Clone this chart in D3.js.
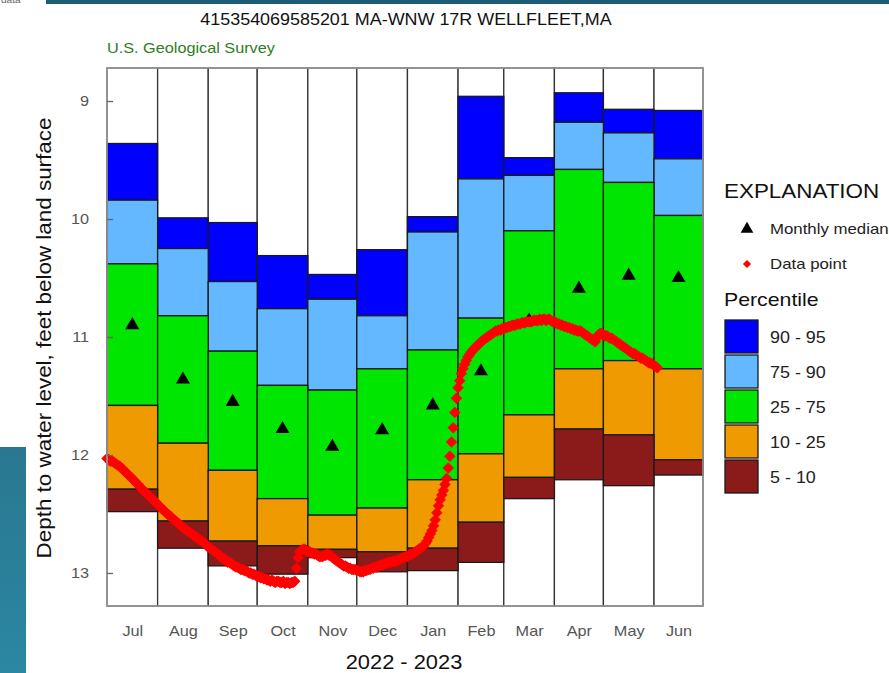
<!DOCTYPE html>
<html>
<head>
<meta charset="utf-8">
<script src="https://cdn.jsdelivr.net/npm/d3@7"></script>
<style>
  html, body { margin: 0; padding: 0; background: #fff; }
  svg { display: block; font-family: "Liberation Sans", Arial, sans-serif; }
</style>
</head>
<body>
<svg id="chart" width="889" height="673"></svg>
<script>
// Station and axis text
const stationTitle = "415354069585201 MA-WNW 17R WELLFLEET,MA";
const agency = "U.S. Geological Survey";
const yTitle = "Depth to water level, feet below land surface";
const xTitle = "2022 - 2023";
const monthLabels = ["Jul", "Aug", "Sep", "Oct", "Nov", "Dec", "Jan", "Feb", "Mar", "Apr", "May", "Jun"];
const monthStarts = ["2022-07-01", "2022-08-01", "2022-09-01", "2022-10-01", "2022-11-01", "2022-12-01",
                     "2023-01-01", "2023-02-01", "2023-03-01", "2023-04-01", "2023-05-01", "2023-06-01", "2023-07-01"];
const depthTicks = [9, 10, 11, 12, 13];

// Monthly percentiles of depth to water (feet below land surface)
const p95 = [9.36, 9.99, 10.03, 10.31, 10.47, 10.26, 9.98, 8.96, 9.48, 8.93, 9.07, 9.08];
const p90 = [9.84, 10.25, 10.53, 10.76, 10.68, 10.82, 10.11, 9.66, 9.63, 9.18, 9.27, 9.49];
const p75 = [10.38, 10.82, 11.12, 11.41, 11.45, 11.27, 11.11, 10.84, 10.10, 9.58, 9.69, 9.97];
const p25 = [11.58, 11.90, 12.13, 12.37, 12.51, 12.45, 12.21, 11.99, 11.66, 11.27, 11.20, 11.27];
const p10 = [12.29, 12.56, 12.73, 12.77, 12.80, 12.82, 12.79, 12.57, 12.19, 11.78, 11.83, 12.04];
const p05 = [12.48, 12.79, 12.94, 13.01, 12.87, 12.99, 12.98, 12.91, 12.37, 12.21, 12.26, 12.17];
const monthlyMedian = [10.90, 11.36, 11.55, 11.78, 11.93, 11.79, 11.58, 11.29, 10.86, 10.59, 10.48, 10.50];

// Daily readings, one per day starting on the first date
const firstReading = "2022-07-01";
const dailyDepth = [
  12.03,12.04,12.05,12.05,12.06,12.07,12.08,12.09,12.10,
  12.11,12.13,12.14,12.15,12.17,12.18,12.19,12.21,
  12.22,12.24,12.25,12.27,12.28,12.30,12.31,12.32,12.34,12.35,
  12.36,12.38,12.39,12.40,12.42,12.43,12.45,12.46,12.47,12.49,12.50,
  12.51,12.52,12.54,12.55,12.56,12.57,12.58,12.60,12.61,12.62,
  12.63,12.64,12.65,12.66,12.67,12.68,12.69,12.70,12.71,12.72,
  12.73,12.74,12.75,12.77,12.78,12.79,12.80,12.81,12.82,12.83,
  12.84,12.85,12.87,12.88,12.88,12.90,12.91,12.91,12.92,12.93,
  12.94,12.95,12.95,12.96,12.97,12.97,12.98,12.98,12.99,13.00,13.00,
  13.01,13.01,13.02,13.03,13.03,13.04,13.04,13.05,13.05,13.06,
  13.06,13.07,13.06,13.07,13.08,13.07,13.07,13.08,
  13.08,13.07,13.09,13.08,13.08,13.09,13.08,13.08,
  13.07,
  12.96,12.87,12.82,12.81,12.80,12.80,
  12.81,12.82,12.82,12.83,12.83,
  12.84,12.84,12.85,12.86,12.86,12.86,12.85,
  12.85,12.84,12.85,12.85,
  12.87,12.88,12.89,12.90,12.91,
  12.92,12.93,12.94,12.94,12.95,
  12.96,12.96,12.97,12.97,12.97,12.98,
  12.98,12.99,12.99,12.99,
  12.98,12.98,12.97,12.97,12.96,12.96,
  12.95,12.95,12.94,12.94,12.93,12.93,12.92,12.92,
  12.91,12.91,12.91,12.90,12.90,12.90,12.89,12.89,
  12.88,12.87,12.87,12.86,12.86,12.85,12.84,12.84,12.83,
  12.82,12.81,12.80,12.79,12.78,12.77,
  12.75,12.73,12.70,12.67,12.64,12.60,
  12.55,12.49,12.43,12.38,12.34,12.30,
  12.25,12.20,12.11,12.01,11.89,11.77,11.64,11.52,
  11.43,11.37,11.31,11.27,11.23,11.20,
  11.17,11.15,11.13,11.11,
  11.10,11.08,11.07,11.06,11.04,11.03,
  11.02,11.01,11.00,10.99,10.98,10.97,10.96,
  10.95,10.95,10.94,10.94,
  10.93,10.93,10.92,10.92,10.91,10.91,10.90,10.90,
  10.90,10.89,10.89,10.89,10.88,10.88,10.88,10.87,10.87,10.87,
  10.87,10.86,10.86,10.86,10.86,10.85,10.86,10.85,10.85,10.86,10.85,10.85,
  10.86,10.87,10.87,10.88,10.89,10.89,10.90,10.90,
  10.91,10.91,10.92,10.92,10.93,10.93,10.94,10.94,10.95,10.95,10.95,
  10.96,10.97,10.98,10.99,11.00,11.01,11.02,11.03,11.04,
  11.01,10.98,10.97,10.97,10.98,
  10.99,10.99,11.00,11.01,11.01,11.02,
  11.03,11.04,11.05,11.06,11.07,11.08,11.09,11.10,11.11,11.12,
  11.13,11.14,11.14,11.15,11.16,11.17,11.18,11.18,11.19,11.20,
  11.21,11.22,11.22,11.23,11.24,11.25,11.26
];

// Percentile classes, bottom edge and top edge of each band
const bandNames = ["90 - 95", "75 - 90", "25 - 75", "10 - 25", "5 - 10"];
const bandColors = ["#0000ff", "#63b8ff", "#00e600", "#ee9a00", "#8b1a1a"];
const bandTops = [p95, p90, p75, p25, p10];
const bandBottoms = [p90, p75, p25, p10, p05];

const svg = d3.select("#chart");
const parse = d3.utcParse("%Y-%m-%d");
const FONT = "Liberation Sans, Arial, sans-serif";
const WIDE = 1.12; // text widening used throughout the page

const plot = { left: 107, right: 703, top: 68, bottom: 606 };

const x = d3.scaleUtc()
  .domain([parse(monthStarts[0]), parse(monthStarts[12])])
  .range([plot.left, plot.right]);

const y = d3.scaleLinear()
  .domain([8.72, 13.28])
  .range([plot.top, plot.bottom]);

// Page decorations
svg.append("rect").attr("x", 46).attr("y", 0).attr("width", 843).attr("height", 4).attr("fill", "#1c5c74");
svg.append("text").attr("class", "wide").attr("x", 1).attr("y", 3).attr("font-size", 9).attr("fill", "#666").text("data");
const grad = svg.append("defs").append("linearGradient").attr("id", "sideBar")
  .attr("x1", 0).attr("y1", 0).attr("x2", 0).attr("y2", 1);
grad.append("stop").attr("offset", 0).attr("stop-color", "#2a7790");
grad.append("stop").attr("offset", 1).attr("stop-color", "#2b87a2");
svg.append("rect").attr("x", 0).attr("y", 447).attr("width", 26).attr("height", 226).attr("fill", "url(#sideBar)");

// Titles
svg.append("text").attr("class", "wide").attr("x", 406).attr("y", 25).attr("text-anchor", "middle")
  .attr("font-size", 16).attr("fill", "#111").text(stationTitle);
svg.append("text").attr("class", "wide").attr("x", 107).attr("y", 53)
  .attr("font-size", 14.5).attr("fill", "#2f7d1f").text(agency);

// Month columns: white background then stacked percentile bands
const months = monthLabels.map((m, i) => ({
  i, label: m,
  start: parse(monthStarts[i]),
  end: parse(monthStarts[i + 1])
}));

const g = svg.append("g");

g.selectAll("rect.col").data(months).join("rect")
  .attr("class", "col")
  .attr("x", d => x(d.start))
  .attr("width", d => x(d.end) - x(d.start))
  .attr("y", plot.top)
  .attr("height", plot.bottom - plot.top)
  .attr("fill", "#fff")
  .attr("stroke", "#333")
  .attr("stroke-width", 1.3);

bandNames.forEach((name, b) => {
  g.selectAll("rect.band" + b).data(months).join("rect")
    .attr("class", "band" + b)
    .attr("x", d => x(d.start))
    .attr("width", d => x(d.end) - x(d.start))
    .attr("y", d => y(bandTops[b][d.i]))
    .attr("height", d => y(bandBottoms[b][d.i]) - y(bandTops[b][d.i]))
    .attr("fill", bandColors[b])
    .attr("stroke", "#1a1a1a")
    .attr("stroke-width", 1.3);
});

// Frame
svg.append("rect")
  .attr("x", plot.left).attr("y", plot.top)
  .attr("width", plot.right - plot.left).attr("height", plot.bottom - plot.top)
  .attr("fill", "none").attr("stroke", "#9a9a9a").attr("stroke-width", 1.6);

// Monthly medians
const tri = d3.symbol().type(d3.symbolTriangle).size(85);
g.selectAll("path.median").data(months).join("path")
  .attr("class", "median")
  .attr("d", tri)
  .attr("transform", d => `translate(${x(new Date((+d.start + +d.end) / 2))},${y(monthlyMedian[d.i])})`)
  .attr("fill", "#000");

// Daily data points
const t0 = parse(firstReading);
const readings = dailyDepth.map((v, k) => ({ date: d3.utcDay.offset(t0, k), depth: v }));
const diamond = d3.symbol().type(d3.symbolSquare).size(66);
g.selectAll("path.pt").data(readings).join("path")
  .attr("class", "pt")
  .attr("d", diamond)
  .attr("transform", d => `translate(${x(d.date)},${y(d.depth)}) rotate(45)`)
  .attr("fill", "#ff0000");

// Y axis
const yAxis = d3.axisLeft(y).tickValues(depthTicks).tickFormat(d3.format("d"))
  .tickSizeInner(-6).tickSizeOuter(0).tickPadding(18);
const ya = svg.append("g").attr("transform", `translate(${plot.left},0)`).call(yAxis);
ya.select(".domain").remove();
ya.selectAll(".tick line").attr("stroke", "#666").attr("stroke-width", 1.3);
ya.selectAll(".tick text").attr("class", "wide").attr("font-size", 14.5).attr("fill", "#555")
  .attr("font-family", FONT);

// X axis: month names centred in each column
const midMonths = months.map(d => new Date((+d.start + +d.end) / 2));
const xAxis = d3.axisBottom(x).tickValues(midMonths)
  .tickFormat((d, i) => monthLabels[i]).tickSize(0).tickPadding(20);
const xa = svg.append("g").attr("transform", `translate(0,${plot.bottom})`).call(xAxis);
xa.select(".domain").remove();
xa.selectAll(".tick text").attr("class", "wide").attr("font-size", 14.5).attr("fill", "#555")
  .attr("font-family", FONT);

svg.append("text").attr("class", "wide").attr("x", 404).attr("y", 669).attr("text-anchor", "middle")
  .attr("font-size", 19.5).attr("fill", "#111").text(xTitle);

svg.append("text").attr("class", "wide")
  .attr("transform", `translate(51,${(plot.top + plot.bottom) / 2 + 1}) rotate(-90)`)
  .attr("text-anchor", "middle").attr("font-size", 20).attr("fill", "#111").text(yTitle);

// Legend
const lg = svg.append("g");
lg.append("text").attr("class", "wide").attr("x", 724).attr("y", 198).attr("font-size", 20).attr("fill", "#111").text("EXPLANATION");
lg.append("path").attr("d", d3.symbol().type(d3.symbolTriangle).size(70))
  .attr("transform", "translate(747,229)").attr("fill", "#000");
lg.append("text").attr("class", "wide").attr("x", 770).attr("y", 234).attr("font-size", 15).attr("fill", "#222").text("Monthly median");
lg.append("path").attr("d", d3.symbol().type(d3.symbolSquare).size(34))
  .attr("transform", "translate(747,264) rotate(45)").attr("fill", "#ff0000");
lg.append("text").attr("class", "wide").attr("x", 770).attr("y", 269).attr("font-size", 15).attr("fill", "#222").text("Data point");
lg.append("text").attr("class", "wide").attr("x", 724).attr("y", 306).attr("font-size", 19).attr("fill", "#111").text("Percentile");

bandNames.forEach((name, b) => {
  const top = 320 + b * 35;
  lg.append("rect").attr("x", 725).attr("y", top).attr("width", 33).attr("height", 33)
    .attr("fill", bandColors[b]).attr("stroke", "#1a1a1a").attr("stroke-width", 1.3);
  lg.append("text").attr("class", "wide").attr("x", 770).attr("y", top + 17).attr("dy", "0.35em")
    .attr("font-size", 16).attr("fill", "#222").text(name);
});

// Widen labels slightly along their reading direction, keeping their anchors
svg.selectAll("text.wide").each(function () {
  const w = this.getComputedTextLength();
  d3.select(this).attr("textLength", w * WIDE).attr("lengthAdjust", "spacingAndGlyphs");
});
</script>
</body>
</html>
